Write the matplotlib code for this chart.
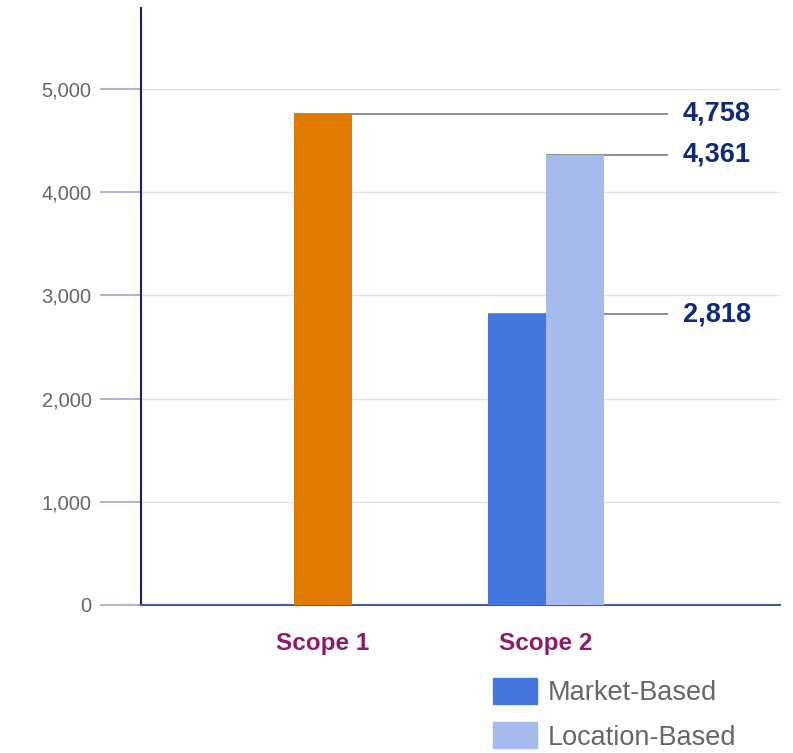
import matplotlib.pyplot as plt
from matplotlib.patches import Patch

plt.rcParams['font.family'] = ['Liberation Sans', 'DejaVu Sans']

categories = ['Scope 1', 'Scope 2']
series_names = ['Market-Based', 'Location-Based']
scope1_value = 4758
scope2_values = [2818, 4361]
y_ticks = [0, 1000, 2000, 3000, 4000, 5000]

orange = '#E07B00'
blue_dark = '#4477DD'
blue_light = '#A4BBEC'
navy = '#0F2A7A'
plum = '#8E1A6A'

fig = plt.figure(figsize=(7.93, 7.53), dpi=100)
ax = fig.add_axes([141 / 793, 1 - 605 / 753, 639 / 793, 597 / 753])

w = 0.26
ax.bar(0, scope1_value, width=w, color=orange, zorder=3)
ax.bar(1 - w / 2, scope2_values[0], width=w, color=blue_dark, zorder=3)
ax.bar(1 + w / 2, scope2_values[1], width=w, color=blue_light, zorder=3)

# leader lines + value labels
line_end = 1.547
label_x = 1.614
starts = [0 - w / 2, 1 - w, 1]
vals = [scope1_value] + scope2_values
for x0, v in zip(starts, vals):
    ax.plot([x0, line_end], [v, v], color='#7a7a7a', lw=1.2, zorder=2,
            solid_capstyle='butt')
    ax.text(label_x, v, f'{v:,}', color=navy, fontsize=19.5, fontweight='bold',
            va='center', ha='left')

ax.set_xlim(-0.816, 2.049)
ax.set_ylim(0, 5785)
ax.set_yticks(y_ticks)
ax.set_yticklabels([f'{t:,}' for t in y_ticks])
ax.tick_params(axis='y', length=29.5, width=1.2, color='#B49CD6', pad=6,
               labelsize=14.5, labelcolor='#666666')
ax.set_xticks([])
ax.yaxis.grid(True, color='#e4e4e4', lw=1)
ax.set_axisbelow(True)

for s in ['top', 'right']:
    ax.spines[s].set_visible(False)
ax.spines['left'].set_color('#1B1F6E')
ax.spines['left'].set_linewidth(1.5)
ax.spines['bottom'].set_color('#4A5A9E')
ax.spines['bottom'].set_linewidth(1.5)

for i, c in enumerate(categories):
    ax.text(i, -0.065, c, transform=ax.get_xaxis_transform(), ha='center',
            va='center', color=plum, fontsize=17.5, fontweight='bold')

handles = [Patch(color=blue_dark), Patch(color=blue_light)]
fig.legend(handles, series_names, loc='upper left',
           bbox_to_anchor=(493 / 793, 1 - 678 / 753), frameon=False,
           fontsize=19.5, handlelength=1.62, handleheight=1.1,
           handletextpad=0.4, labelspacing=0.6, borderpad=0,
           borderaxespad=0, labelcolor='#666666')

fig.savefig('out.png', dpi=100)
